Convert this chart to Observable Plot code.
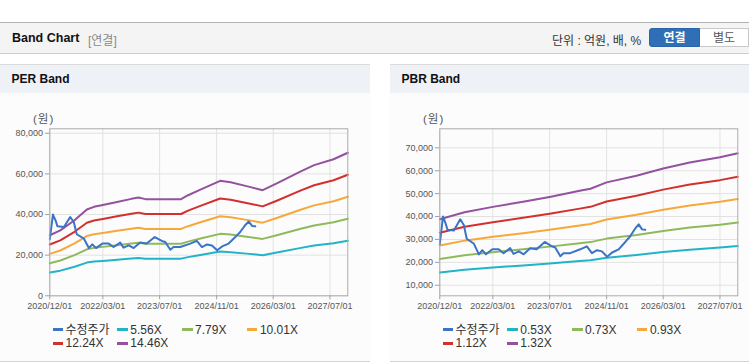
<!DOCTYPE html>
<html><head><meta charset="utf-8">
<script src="https://cdn.jsdelivr.net/npm/d3@7"></script>
<script src="https://cdn.jsdelivr.net/npm/@observablehq/plot@0.6"></script>
<style>
body{margin:0;background:#fff;font-family:"Liberation Sans",Arial,"Noto Sans CJK KR",sans-serif;}
#root{position:relative;width:749px;height:364px;overflow:hidden;background:#fff;}
.abs{position:absolute;}
.hdr{left:0;top:22px;width:749px;height:30px;background:#f4f4f4;border-top:1px solid #b4b4b4;border-bottom:1px solid #cfcfcf;}
.ttl{font-weight:bold;font-size:12.5px;color:#111;}
.sub{font-size:12px;color:#8a8a8a;}
.unit{font-size:12px;color:#333;}
.btn{top:28px;height:19px;line-height:19px;font-size:12px;text-align:center;box-sizing:border-box;}
.panel{top:64px;height:298px;background:#fcfcfc;border-top:1px solid #dcdcdc;border-bottom:1px solid #d4d4d4;box-sizing:border-box;}
.pbar{top:65px;height:28px;background:#eef2f7;}
.ptitle{font-weight:bold;font-size:12px;color:#111;}
.won{font-size:11.5px;color:#555;letter-spacing:1px;}
.leg{font-size:12px;color:#333;line-height:13.3px;}
.leg .it{position:absolute;white-space:nowrap;}
.leg .dash{display:inline-block;width:10.5px;height:3px;vertical-align:middle;margin-right:2.5px;position:relative;top:-1px;}
</style></head><body><div id="root"></div>
<script>
// ---------- data ----------
const xTickLabels = ["2020/12/01","2022/03/01","2023/07/01","2024/11/01","2026/03/01","2027/07/01"];
const xDomain = ["2020-12-01","2027-12-01"];

const seriesNamesPER = ["수정주가","5.56X","7.79X","10.01X","12.24X","14.46X"];
const seriesNamesPBR = ["수정주가","0.53X","0.73X","0.93X","1.12X","1.32X"];
const perMultiples = [5.56, 7.79, 10.01, 12.24, 14.46];
const pbrMultiples = [0.53, 0.73, 0.93, 1.12, 1.32];
const seriesColors = ["#3b73c5","#22b3c7","#8fba5b","#f7a83a","#d2302c","#93519f"];

const perYTicks = [0, 20000, 40000, 60000, 80000];
const pbrYTicks = [10000, 20000, 30000, 40000, 50000, 60000, 70000];
const perYDomain = [0, 82200];
const pbrYDomain = [5400, 78300];

// adjusted share price (원)
const priceDates = ["2020-12-01","2020-12-28","2021-01-20","2021-02-05","2021-04-01","2021-05-25","2021-06-25","2021-07-20","2021-09-20","2021-11-01","2021-12-01","2022-01-01","2022-02-25","2022-04-20","2022-06-01","2022-07-28","2022-08-25","2022-10-10","2022-11-20","2023-01-15","2023-03-12","2023-05-20","2023-07-20","2023-08-18","2023-10-01","2023-10-28","2023-12-25","2024-03-20","2024-05-15","2024-06-28","2024-08-10","2024-09-22","2024-11-05","2024-12-18","2025-02-12","2025-04-10","2025-05-22","2025-07-03","2025-08-03","2025-09-01","2025-09-28"];
const priceValues = [27900,40000,37000,34200,33900,38800,36300,30300,28100,23500,25300,23500,25700,25700,24000,26200,23700,24800,23500,26200,25700,28900,27000,26500,22700,24000,24000,25700,27000,24000,25300,24800,22400,24300,25700,28900,31400,34700,36600,34400,34200];

// EPS (원) behind the PER band
const epsDates = ["2020-12-01","2021-03-01","2021-07-01","2021-10-15","2021-12-15","2022-03-01","2022-07-01","2022-11-01","2023-01-01","2023-03-01","2024-01-01","2024-03-01","2024-06-15","2024-12-01","2025-03-01","2025-07-15","2025-12-01","2026-04-01","2026-10-15","2027-02-15","2027-08-01","2027-12-01"];
const epsValues = [2061,2227,2573,2939,3029,3091,3195,3300,3345,3290,3290,3423,3617,3914,3866,3734,3596,3824,4219,4447,4647,4869];

// BPS (원) behind the PBR band
const bpsDates = ["2020-12-01","2021-07-01","2022-03-01","2022-11-15","2023-07-01","2024-03-15","2024-06-15","2024-11-01","2025-07-15","2026-03-01","2026-10-15","2027-07-01","2027-12-01"];
const bpsValues = [29400,31700,33500,35200,36800,38800,39500,41600,43800,46200,48200,49900,51200];

// ---------- build ----------
const root = document.getElementById("root");
function el(cls, style, html){const d=document.createElement("div");d.className="abs "+cls;Object.assign(d.style,style);if(html!=null)d.innerHTML=html;root.appendChild(d);return d;}

el("hdr",{});
el("ttl",{left:"12px",top:"31px"},"Band Chart");
el("sub",{left:"88px",top:"31px"},"[연결]");
el("unit",{left:"552px",top:"31px"},"단위 : 억원, 배, %");
el("btn",{left:"649px",width:"51px",background:"#2f6fb6",color:"#fff",fontWeight:"bold",borderRadius:"3px 0 0 3px",border:"1px solid #2a64a6"},"연결");
el("btn",{left:"700px",width:"49px",background:"#fff",color:"#555",border:"1px solid #c8c8c8",borderLeft:"none"},"별도");

const parse = d3.utcParse("%Y-%m-%d");
const fmtX = d3.utcFormat("%Y/%m/%d");
const xTicks = xTickLabels.map(s => d3.utcParse("%Y/%m/%d")(s));

function panel(left, width, title, names, multiples, baseDates, baseValues, yTicks, yDomain, marginRight){
  el("panel",{left:left+"px",width:width+"px"});
  el("pbar",{left:left+"px",width:width+"px"});
  el("ptitle",{left:(left+11.5)+"px",top:"72px"},title);
  el("won",{left:(left+33)+"px",top:"110px"},"(원)");

  const rows = [];
  priceDates.forEach((d,i)=>rows.push({date:parse(d),value:priceValues[i],series:names[0]}));
  const bands = [];
  multiples.forEach((m,k)=>baseDates.forEach((d,i)=>bands.push({date:parse(d),value:baseValues[i]*m,series:names[k+1]})));

  const chart = Plot.plot({
    width: width, height: 210,
    marginLeft: 49.3, marginRight: marginRight, marginTop: 18.3, marginBottom: 24.7,
    x: {type:"utc", domain: xDomain.map(parse), axis:null},
    y: {domain: yDomain, axis:null},
    color: {domain: names, range: seriesColors},
    style: {background:"transparent", fontFamily:'"Liberation Sans", Arial, sans-serif', fontSize:"9px", color:"#555", overflow:"visible"},
    marks: [
      Plot.gridX(xTicks, {stroke:"#e2e2e2", strokeOpacity:1}),
      Plot.gridY(yTicks, {stroke:"#e2e2e2", strokeOpacity:1}),
      Plot.axisX(xTicks, {tickFormat: fmtX, tickSize:4, tickPadding:2.5, stroke:"#a0a0a0", fill:"#555", fontSize:9, label:null}),
      Plot.axisY(yTicks, {tickFormat: d3.format(","), tickSize:4.3, tickPadding:2.5, stroke:"#a0a0a0", fill:"#555", fontSize:9, label:null}),
      Plot.line(bands, {x:"date", y:"value", z:"series", stroke:"series", strokeWidth:2}),
      Plot.line(rows, {x:"date", y:"value", z:"series", stroke:"series", strokeWidth:2}),
      Plot.frame({stroke:"#ababab"})
    ]
  });
  const holder = el("", {left:left+"px", top:"110px"});
  holder.appendChild(chart);

  const leg = el("leg",{left:(left+52.5)+"px",top:"324px",width:"300px",height:"30px"});
  names.forEach((n,i)=>{
    const it=document.createElement("div");
    it.className="it";
    it.style.left=((i%4)*64.8)+"px";
    it.style.top=(Math.floor(i/4)*13.3)+"px";
    it.innerHTML='<span class="dash" style="background:'+seriesColors[i]+'"></span>'+n;
    leg.appendChild(it);
  });
}

panel(0, 370, "PER Band", seriesNamesPER, perMultiples, epsDates, epsValues, perYTicks, perYDomain, 22.7);
panel(390, 359, "PBR Band", seriesNamesPBR, pbrMultiples, bpsDates, bpsValues, pbrYTicks, pbrYDomain, 11.7);
</script></body></html>
